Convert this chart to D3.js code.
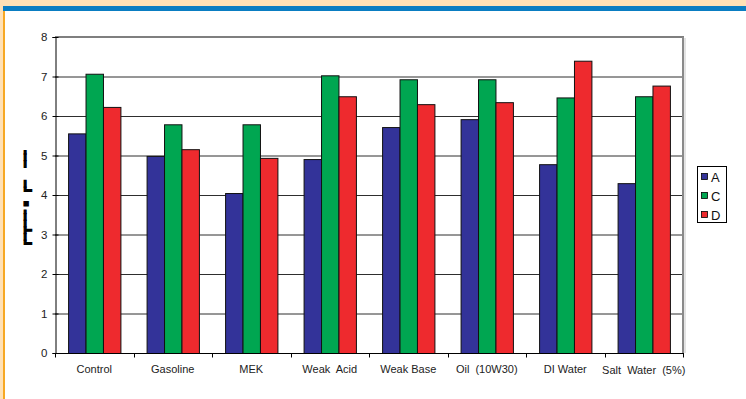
<!DOCTYPE html>
<html>
<head>
<meta charset="utf-8">
<script src="https://cdn.jsdelivr.net/npm/d3@7"></script>
<style>
  html, body { margin: 0; padding: 0; background: #fff; }
  svg { display: block; font-family: "Liberation Sans", Arial, sans-serif; }
</style>
</head>
<body>
<svg id="chart" width="746" height="399"></svg>
<script>
// Treatment categories and measured values per specimen group
const categories = ["Control", "Gasoline", "MEK", "Weak  Acid", "Weak Base", "Oil  (10W30)", "DI Water", "Salt  Water  (5%)"];
const seriesNames = ["A", "C", "D"];
const valuesA = [5.56, 4.99, 4.05, 4.91, 5.72, 5.92, 4.78, 4.30];
const valuesC = [7.07, 5.79, 5.79, 7.03, 6.93, 6.93, 6.47, 6.50];
const valuesD = [6.23, 5.16, 4.94, 6.50, 6.30, 6.35, 7.40, 6.77];
const yTicks = [0, 1, 2, 3, 4, 5, 6, 7, 8];

const colors = { A: "#333399", C: "#00a651", D: "#ee2a2e" };
const seriesValues = { A: valuesA, C: valuesC, D: valuesD };

const svg = d3.select("#chart");
const W = 746, H = 399;

// page frame: peach header, blue rule, orange left edge
svg.append("rect").attr("x", 0).attr("y", 0).attr("width", W).attr("height", 6).attr("fill", "#ffe1b6");
svg.append("rect").attr("x", 0).attr("y", 6).attr("width", 3).attr("height", H - 6).attr("fill", "#ffe1b6");
svg.append("rect").attr("x", 3).attr("y", 6).attr("width", W - 3).attr("height", 5).attr("fill", "#0a7dc2");
svg.append("rect").attr("x", 3).attr("y", 11).attr("width", 2).attr("height", H - 11).attr("fill", "#f7a823");

const plot = { left: 55, right: 683, top: 37, bottom: 353 };

const x = d3.scaleBand().domain(categories).range([plot.left, plot.right]);
const xInner = d3.scaleBand().domain(seriesNames)
  .range([0, x.bandwidth()]).paddingOuter(0.75).paddingInner(0);
const y = d3.scaleLinear().domain([0, 8]).range([plot.bottom, plot.top]);

// horizontal gridlines
svg.append("g").selectAll("line").data(yTicks.filter(t => t > 0 && t < 8)).join("line")
  .attr("x1", plot.left).attr("x2", plot.right)
  .attr("y1", d => y(d) + 0.5).attr("y2", d => y(d) + 0.5)
  .attr("stroke", "#2e2e2e").attr("stroke-width", 1);

// plot frame (top and right edges), grey with light shadow
svg.append("line").attr("x1", plot.left).attr("x2", plot.right + 1)
  .attr("y1", plot.top).attr("y2", plot.top).attr("stroke", "#7f7f7f").attr("stroke-width", 2);
svg.append("line").attr("x1", plot.right).attr("x2", plot.right)
  .attr("y1", plot.top).attr("y2", plot.bottom).attr("stroke", "#8a8a8a").attr("stroke-width", 2);
svg.append("line").attr("x1", plot.right + 2).attr("x2", plot.right + 2)
  .attr("y1", plot.top + 1).attr("y2", plot.bottom).attr("stroke", "#c8c8c8").attr("stroke-width", 1);

// bars
const groups = svg.append("g").selectAll("g").data(categories).join("g")
  .attr("transform", d => `translate(${x(d)},0)`);
groups.selectAll("rect")
  .data((c, i) => seriesNames.map(s => ({ s, v: seriesValues[s][i] })))
  .join("rect")
  .attr("x", d => xInner(d.s) + 0.5)
  .attr("width", xInner.bandwidth())
  .attr("y", d => y(d.v) + 0.5)
  .attr("height", d => y(0) - y(d.v))
  .attr("fill", d => colors[d.s])
  .attr("stroke", "#111")
  .attr("stroke-width", 1);

// y axis
const yAxis = d3.axisLeft(y).tickValues(yTicks).tickSize(3).tickPadding(5).tickFormat(d3.format("d"));
const gy = svg.append("g").attr("transform", `translate(${plot.left + 0.5},0)`).call(yAxis);
gy.select(".domain").attr("stroke", "#000");
gy.selectAll(".tick line").attr("x2", 3).attr("x1", -3).attr("stroke", "#000");
gy.selectAll(".tick text").attr("font-size", 11.5).attr("fill", "#222").attr("x", -8)
  .attr("font-family", "Liberation Sans, Arial, sans-serif");

// x axis: ticks between categories
const gx = svg.append("g").attr("transform", `translate(0,${plot.bottom + 0.5})`);
gx.append("line").attr("x1", plot.left).attr("x2", plot.right + 1).attr("stroke", "#000");
const boundaries = categories.map(c => x(c) + x.bandwidth()).concat([x(categories[0])]);
gx.selectAll("line.tk").data(boundaries).join("line").attr("class", "tk")
  .attr("x1", d => Math.round(d) + 0.5).attr("x2", d => Math.round(d) + 0.5)
  .attr("y1", 0).attr("y2", 4).attr("stroke", "#000");
gx.selectAll("text").data(categories).join("text")
  .attr("x", d => x(d) + x.bandwidth() / 2)
  .attr("y", (d, i) => i === 7 ? 20 : 19)
  .attr("text-anchor", "middle")
  .attr("font-size", 11)
  .attr("fill", "#222")
  .style("white-space", "pre")
  .text(d => d);

// y axis title (rendered with a symbol font)
svg.append("text")
  .attr("transform", `translate(29,${(plot.top + plot.bottom) / 2 + 2}) rotate(-90)`)
  .attr("text-anchor", "middle")
  .attr("font-size", 11)
  .attr("font-weight", "bold")
  .attr("font-family", "DejaVu Sans Mono, monospace")
  .attr("stroke", "#000")
  .attr("stroke-width", 1.2)
  .style("white-space", "pre")
  .text("┏━┳━━╸▪ ┏━  ━━╸");

// legend
const legend = svg.append("g");
legend.append("rect").attr("x", 697.5).attr("y", 166.5).attr("width", 29).attr("height", 56)
  .attr("fill", "#fff").attr("stroke", "#000");
seriesNames.forEach((s, i) => {
  const cy = 177 + i * 19;
  legend.append("rect").attr("x", 701.5).attr("y", cy - 3.5).attr("width", 6).attr("height", 6)
    .attr("fill", colors[s]).attr("stroke", "#000").attr("stroke-width", 0.8);
  legend.append("text").attr("x", 711).attr("y", cy + 5).attr("font-size", 13).attr("fill", "#111").text(s);
});
</script>
</body>
</html>
